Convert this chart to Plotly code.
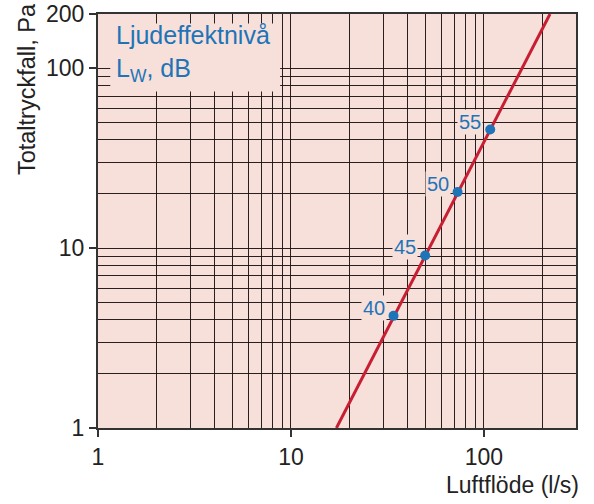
import math
import plotly.graph_objects as go

# Pressure drop vs. air flow, log-log, with sound power level marks
line_flow = [17.2, 220]          # l/s
line_pressure = [1, 200]         # Pa

point_flow = [34.0, 49.6, 73.0, 107.8]
point_pressure = [4.2, 9.1, 20.5, 45.6]
point_labels = ["40", "45", "50", "55"]

x_major = [1, 10, 100]
x_minor = [2, 3, 4, 5, 6, 7, 8, 9, 20, 30, 40, 50, 60, 70, 80, 90, 200]
y_major = [1, 10, 100, 200]
y_minor = [2, 3, 4, 5, 6, 7, 8, 9, 20, 30, 40, 50, 60, 70, 80, 90]

BG = "#f7e0d9"
GRID = "rgba(30,20,20,0.95)"
BLUE = "#1f74b8"
RED = "#c81e34"
FONT = "Liberation Sans, Arial, sans-serif"

fig = go.Figure()
fig.add_trace(go.Scatter(x=line_flow, y=line_pressure, mode="lines",
                         line=dict(color=RED, width=3), hoverinfo="skip"))
fig.add_trace(go.Scatter(x=point_flow, y=point_pressure, mode="markers",
                         marker=dict(color=BLUE, size=10)))

# annotations on log axes take log10 positions
for fx, py, lab in zip(point_flow, point_pressure, point_labels):
    fig.add_annotation(x=math.log10(fx), y=math.log10(py), xref="x", yref="y",
                       text=lab, showarrow=False,
                       xanchor="right", yanchor="middle", xshift=-7, yshift=8,
                       font=dict(family=FONT, size=20, color=BLUE),
                       bgcolor=BG, borderpad=1)

# Legend box hiding the grid in the upper-left corner
fig.add_shape(type="rect", xref="paper", yref="paper",
              x0=0.0257, x1=0.381, y0=0.8127, y1=0.977,
              fillcolor=BG, line=dict(width=0), layer="above")
fig.add_annotation(xref="paper", yref="paper", x=0.034, y=0.988,
                   xanchor="left", yanchor="top", align="left", showarrow=False,
                   text="Ljudeffektnivå<br>L<sub>W</sub>, dB",
                   font=dict(family=FONT, size=25, color=BLUE))

fig.add_annotation(xref="paper", yref="paper", x=-0.15, y=1.032,
                   xanchor="center", yanchor="top", textangle=-90, showarrow=False,
                   text="Totaltryckfall, Pa",
                   font=dict(family=FONT, size=23.5, color="#222"))
fig.add_annotation(xref="paper", yref="paper", x=1.01, y=-0.137,
                   xanchor="right", yanchor="middle", showarrow=False,
                   text="Luftflöde (l/s)",
                   font=dict(family=FONT, size=23, color="#222"))

axis_common = dict(
    showline=True, mirror=True, linecolor="#333", linewidth=2,
    ticks="outside", ticklen=7, tickwidth=1.5, tickcolor="#333",
    showgrid=True, gridcolor=GRID, gridwidth=1,
    tickfont=dict(family=FONT, size=23, color="#222"),
    zeroline=False,
)

fig.update_xaxes(type="log", range=[0, 2.4771], tickmode="array",
                 tickvals=x_major, ticktext=[str(v) for v in x_major],
                 minor=dict(tickmode="array", tickvals=x_minor, showgrid=True,
                            gridcolor=GRID, gridwidth=1, ticks=""),
                 **axis_common)
fig.update_yaxes(type="log", range=[0, 2.30103], tickmode="array",
                 tickvals=y_major, ticktext=[str(v) for v in y_major],
                 minor=dict(tickmode="array", tickvals=y_minor, showgrid=True,
                            gridcolor=GRID, gridwidth=1, ticks=""),
                 **axis_common)

fig.update_layout(
    width=594, height=504,
    margin=dict(l=98, r=18, t=14, b=76, autoexpand=False),
    plot_bgcolor=BG, paper_bgcolor="white",
    showlegend=False,
)

fig.write_html("out.html")
